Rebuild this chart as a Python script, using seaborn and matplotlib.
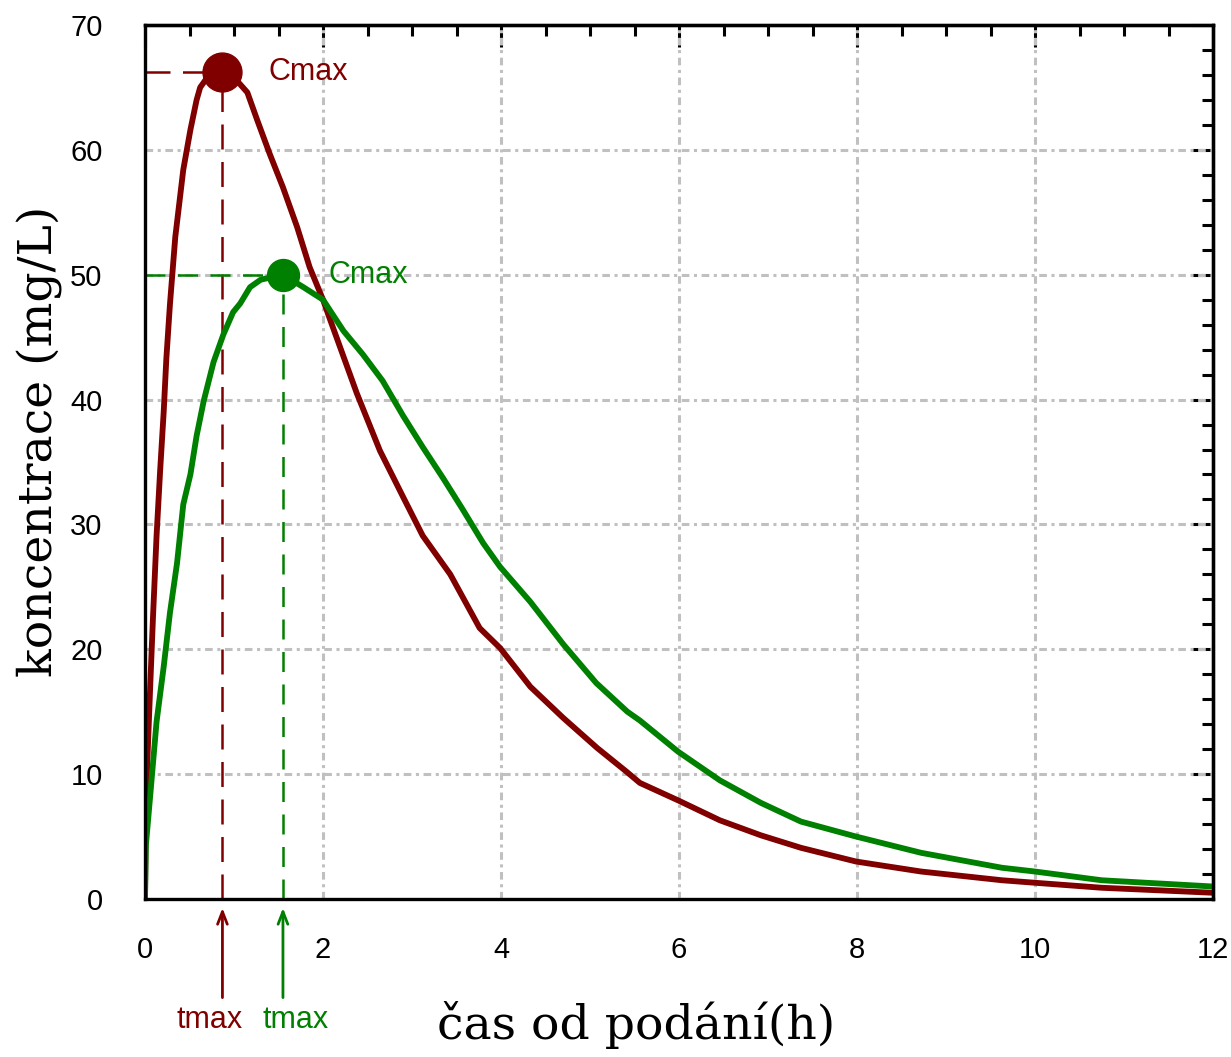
import numpy as np
import pandas as pd
import matplotlib
matplotlib.use('Agg')
import matplotlib.pyplot as plt
from matplotlib.ticker import MultipleLocator
import seaborn as sns

# odečtené hodnoty z grafu
t_red = [0, 0.01, 0.06, 0.09, 0.13, 0.17, 0.21, 0.24, 0.28, 0.34, 0.43, 0.51, 0.58, 0.62, 0.70,
         0.87, 1.05, 1.15, 1.26, 1.40, 1.55, 1.71, 1.85, 2.00, 2.08, 2.38, 2.64, 2.90, 3.12, 3.43,
         3.76, 3.99, 4.33, 4.70, 5.08, 5.41, 5.56, 5.99, 6.46, 6.92, 7.37, 7.99, 8.72, 9.63, 10.0,
         10.75, 12.0]
c_red = [0, 8, 17.3, 22.6, 29.1, 34.3, 39.0, 43.3, 47.6, 53.0, 58.4, 61.6, 64.0, 65.0, 65.8,
         66.2, 65.4, 64.6, 62.4, 59.7, 57.0, 53.8, 50.6, 48.0, 46.4, 40.5, 35.9, 32.2, 29.1, 26.0,
         21.7, 20.1, 17.0, 14.5, 12.1, 10.2, 9.3, 7.9, 6.3, 5.1, 4.1, 3.0, 2.2, 1.5, 1.3,
         0.9, 0.5]

t_green = [0, 0.01, 0.06, 0.13, 0.21, 0.28, 0.36, 0.43, 0.51, 0.58, 0.66, 0.77, 0.88, 0.99, 1.07,
           1.18, 1.30, 1.55, 1.78, 2.00, 2.11, 2.23, 2.45, 2.67, 2.90, 3.12, 3.35, 3.57, 3.80, 3.99,
           4.33, 4.70, 5.07, 5.42, 5.56, 5.99, 6.46, 6.92, 7.37, 7.99, 8.72, 9.63, 10.0, 10.75, 12.0]
c_green = [0, 4.3, 8.4, 14.2, 18.6, 22.9, 26.9, 31.6, 34.0, 37.1, 39.9, 43.0, 45.2, 47.0, 47.7,
           49.0, 49.6, 50.0, 49.0, 48.0, 46.8, 45.5, 43.6, 41.5, 38.7, 36.2, 33.7, 31.2, 28.5, 26.6,
           23.8, 20.4, 17.3, 15.0, 14.3, 11.8, 9.5, 7.7, 6.2, 5.0, 3.7, 2.5, 2.2, 1.5, 1.0]

x_ticks = [0, 2, 4, 6, 8, 10, 12]
y_ticks = [0, 10, 20, 30, 40, 50, 60, 70]

RED = '#800000'
GREEN = '#008000'
GRID = '#c0c0c0'

sns.set_style('white')
tick_font = ['Liberation Sans', 'DejaVu Sans']
label_font = ['DejaVu Serif']
plt.rcParams['font.family'] = tick_font

df_red = pd.DataFrame({'t': t_red, 'c': c_red})
df_green = pd.DataFrame({'t': t_green, 'c': c_green})

fig = plt.figure(figsize=(12.31, 10.57), dpi=100)
ax = fig.add_axes([145 / 1231, 1 - 899 / 1057, 1068 / 1231, 874 / 1057])

sns.lineplot(data=df_red, x='t', y='c', ax=ax, color=RED, lw=4.2, sort=False, zorder=4)
sns.lineplot(data=df_green, x='t', y='c', ax=ax, color=GREEN, lw=4.2, sort=False, zorder=4)

ax.set_xlim(0, 12)
ax.set_ylim(0, 70)

# grid
ax.set_xticks(x_ticks)
ax.set_yticks(y_ticks)
ax.xaxis.set_minor_locator(MultipleLocator(0.5))
ax.yaxis.set_minor_locator(MultipleLocator(2))
ax.grid(True, which='major', color=GRID, lw=2.2, linestyle=(0, (2.5, 1.5, 1, 1.5)), zorder=0)
ax.set_axisbelow(True)

for s in ax.spines.values():
    s.set_linewidth(2.4)
    s.set_color('black')
    s.set_zorder(6)

ax.tick_params(which='major', direction='out', length=14.5, width=2.2, labelsize=21, pad=12,
               colors='black')
ax.tick_params(which='minor', direction='out', length=8, width=2.2, colors='black')
ax.tick_params(axis='y', pad=16)

# top/right ticks pointing inwards
sec_x = ax.secondary_xaxis('top')
sec_x.set_xticks(x_ticks)
sec_x.xaxis.set_minor_locator(MultipleLocator(0.5))
sec_x.tick_params(which='major', direction='in', length=16, width=2.2, labeltop=False, colors='black')
sec_x.tick_params(which='minor', direction='in', length=8, width=2.2, colors='black')
sec_y = ax.secondary_yaxis('right')
sec_y.set_yticks(y_ticks)
sec_y.yaxis.set_minor_locator(MultipleLocator(2))
sec_y.tick_params(which='major', direction='in', length=16, width=2.2, labelright=False, colors='black')
sec_y.tick_params(which='minor', direction='in', length=8, width=2.2, colors='black')
for s in list(sec_x.spines.values()) + list(sec_y.spines.values()):
    s.set_linewidth(2.4)

ax.set_xlabel('čas od podání(h)', fontsize=34, family=label_font, color='black', va='center')
ax.set_ylabel('koncentrace (mg/L)', fontsize=34, family=label_font, color='black', va='center')
ax.xaxis.set_label_coords(0.46, -0.144)
ax.yaxis.set_label_coords(-0.098, 0.524)

# Cmax / tmax
for t, c, col, ms, dash, txt_dx in [(t_red, c_red, RED, 28, (10, 5), -13),
                                    (t_green, c_green, GREEN, 23, (8, 5), 13)]:
    i = int(np.argmax(c))
    tm, cm = t[i], c[i]
    ax.hlines(cm, 0, tm, colors=col, lw=1.8, linestyles=[(0, dash)], zorder=3)
    ax.vlines(tm, 0, cm, colors=col, lw=1.8, linestyles=[(0, dash)], zorder=3)
    ax.plot([tm], [cm], 'o', color=col, ms=ms, zorder=5)
    ax.annotate('Cmax', xy=(tm, cm), xytext=(46, 0), textcoords='offset pixels',
                color=col, fontsize=22, va='center', ha='left')
    ax.annotate('', xy=(tm, -0.007), xycoords=('data', 'axes fraction'),
                xytext=(tm, -0.116), textcoords=('data', 'axes fraction'),
                arrowprops=dict(arrowstyle='->,head_length=0.9,head_width=0.35', color=col, lw=2),
                annotation_clip=False)
    ax.annotate('tmax', xy=(tm, -0.139), xycoords=('data', 'axes fraction'),
                xytext=(txt_dx, 0), textcoords='offset pixels',
                color=col, fontsize=22, ha='center', va='center', annotation_clip=False)

fig.savefig('out.png', dpi=100)
